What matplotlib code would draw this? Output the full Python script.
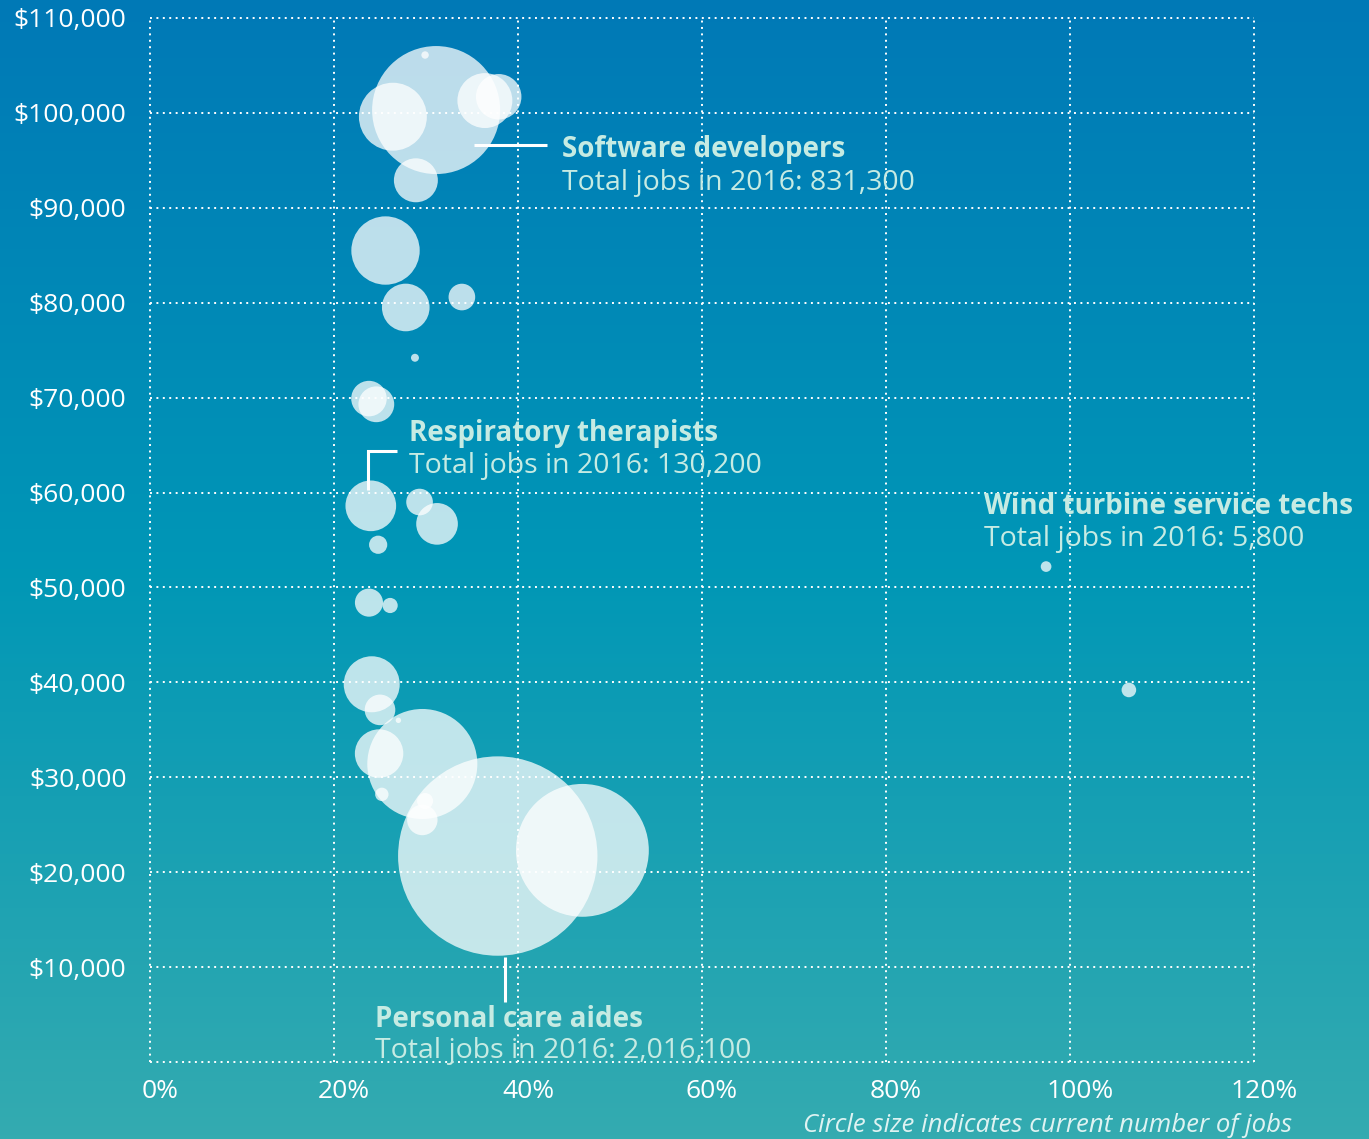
import numpy as np
import matplotlib
matplotlib.use("Agg")
import matplotlib.pyplot as plt
from matplotlib.colors import LinearSegmentedColormap
from matplotlib.transforms import ScaledTranslation

plt.rcParams['font.family'] = ['Open Sans', 'DejaVu Sans']

# projected growth (%), median wage ($), jobs in 2016
growth = [31.1, 29.9, 26.4, 36.4, 37.9, 28.9, 25.6, 27.8, 33.9, 28.8,
          23.8, 24.6, 24.0, 29.3, 31.2, 24.8, 23.8, 26.1, 24.1, 25.0,
          27.0, 29.6, 24.9, 25.2, 29.9, 29.6, 37.8, 47.0, 97.4, 106.4]
wage = [100300, 106100, 99600, 101300, 101700, 92900, 85500, 79500, 80600, 74200,
        69900, 69300, 58600, 59000, 56700, 54500, 48400, 48100, 39800, 37100,
        36000, 31400, 32500, 28200, 27500, 25500, 21700, 22300, 52200, 39200]
jobs = [831300, 2800, 234000, 153000, 105000, 98000, 237000, 115000, 36000, 3200,
        64000, 65000, 130200, 36000, 88000, 16800, 40000, 11700, 159000, 47500,
        1500, 614000, 119000, 9100, 13000, 47000, 2016100, 895000, 5800, 10800]

x_ticks = [0, 20, 40, 60, 80, 100, 120]
x_labels = ['0%', '20%', '40%', '60%', '80%', '100%', '120%']
y_ticks = list(range(0, 110001, 10000))
y_labels = [''] + ['${:,}'.format(v) for v in y_ticks[1:]]

# highlighted occupations: index into arrays above
callouts = {
    'Software developers': 0,
    'Respiratory therapists': 12,
    'Personal care aides': 26,
    'Wind turbine service techs': 28,
}

W, H = 1369, 1139
fig = plt.figure(figsize=(W / 100, H / 100), dpi=100)

# background gradient
bg = fig.add_axes([0, 0, 1, 1], zorder=-10)
cmap = LinearSegmentedColormap.from_list('bg', ['#0079b6', '#0097b6', '#34abb0'])
grad = np.linspace(0, 1, 256).reshape(-1, 1)
bg.imshow(grad, aspect='auto', cmap=cmap, extent=[0, 1, 0, 1])
bg.axis('off')

ax = fig.add_axes([150 / W, (H - 1062) / H, (1254 - 150) / W, (1062 - 18) / H])
ax.patch.set_alpha(0)
ax.set_xlim(0, 120)
ax.set_ylim(0, 110000)
for s in ax.spines.values():
    s.set_visible(False)

ax.scatter(growth, wage, s=np.array(jobs) * 0.01022, color='white', alpha=0.74,
           edgecolors='none', zorder=1)

ax.set_axisbelow(False)
ax.set_xticks(x_ticks)
ax.set_xticklabels(x_labels)
ax.set_yticks(y_ticks)
ax.set_yticklabels(y_labels)
ax.grid(True, color='white', linestyle=(0, (1, 2.3)), linewidth=1.4, zorder=3)
for gl in ax.get_xgridlines() + ax.get_ygridlines():
    gl.set_clip_on(False)
ax.tick_params(length=0, labelcolor='white')
ax.tick_params(axis='y', pad=17, labelsize=19)
ax.tick_params(axis='x', pad=12, labelsize=19)
for lab in ax.get_xticklabels():
    lab.set_transform(lab.get_transform() + ScaledTranslation(10 / 100, 0, fig.dpi_scale_trans))

tc = '#c6ebe3'

def callout(name, tx, ty1, ty2):
    i = callouts[name]
    ax.text(tx, ty1, name, color=tc, fontsize=20, fontweight='bold', va='center',
            ha='left', clip_on=False)
    ax.text(tx, ty2, 'Total jobs in 2016: {:,}'.format(jobs[i]), color=tc, fontsize=20.5,
            va='center', ha='left', clip_on=False)

callout('Software developers', 44.75, 96150, 92640)
ax.plot([35.2, 43.1], [96620, 96620], color='white', lw=2.2, solid_capstyle='butt', zorder=4)

callout('Respiratory therapists', 28.1, 66220, 62780)
ax.plot([23.7, 23.7, 26.9], [60290, 64330, 64330], color='white', lw=2.2,
        solid_capstyle='butt', solid_joinstyle='miter', zorder=4)

callout('Personal care aides', 24.5, 4530, 1160)
ax.plot([38.6, 38.6], [11040, 6360], color='white', lw=2.2, solid_capstyle='butt', zorder=4)

callout('Wind turbine service techs', 90.7, 58570, 55120)

fig.text(1292 / W, 1 - 1125 / H, 'Circle size indicates current number of jobs',
         color='#dff3f2', fontsize=18.5, style='italic', ha='right', va='center')

fig.savefig('out.png', dpi=100)
